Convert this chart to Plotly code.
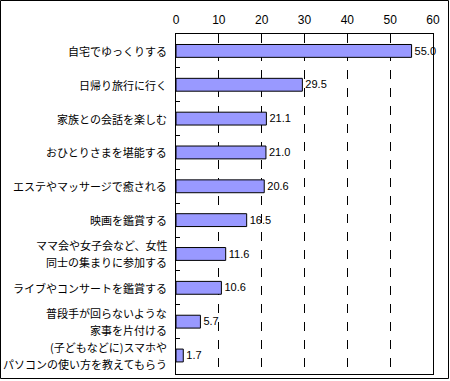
import plotly.graph_objects as go

categories = [
    "自宅でゆっくりする",
    "日帰り旅行に行く",
    "家族との会話を楽しむ",
    "おひとりさまを堪能する",
    "エステやマッサージで癒される",
    "映画を鑑賞する",
    "ママ会や女子会など、女性<br>同士の集まりに参加する",
    "ライブやコンサートを鑑賞する",
    "普段手が回らないような<br>家事を片付ける",
    "(子どもなどに)スマホや<br>パソコンの使い方を教えてもらう",
]
values = [55.0, 29.5, 21.1, 21.0, 20.6, 16.5, 11.6, 10.6, 5.7, 1.7]
x_ticks = [0, 10, 20, 30, 40, 50, 60]

W, H = 450, 381
ML, MR, MT, MB = 176, 17, 34, 7
LINE_GAP = 17

fig = go.Figure()
fig.add_trace(go.Bar(
    y=categories,
    x=values,
    orientation="h",
    marker=dict(color="#9999FF", line=dict(color="black", width=1)),
    text=[f"{v:.1f}" for v in values],
    textposition="outside",
    textfont=dict(size=12, color="black", family="Liberation Sans, Arial"),
    cliponaxis=False,
    width=0.38,
))

# category labels (one text per line so that line spacing matches)
for cat in categories:
    lines = cat.split("<br>")
    n = len(lines)
    for i, line in enumerate(lines):
        fig.add_annotation(
            xref="paper", yref="y", x=0, y=cat,
            text=line, showarrow=False,
            xanchor="right", yanchor="middle",
            xshift=-7, yshift=((n - 1) / 2 - i) * LINE_GAP,
            font=dict(size=11, family="Noto Sans CJK JP", color="black"),
        )

pw = W - ML - MR
ph = H - MT - MB
fig.add_shape(
    type="rect", xref="paper", yref="paper",
    x0=(0.5 - ML) / pw, x1=(W - 1.5 - ML) / pw,
    y0=-(MB - 2.5) / ph, y1=1 + (MT - 0.5) / ph,
    line=dict(color="black", width=1),
    layer="above",
)

fig.update_layout(
    width=W, height=H,
    margin=dict(l=ML, r=MR, t=MT, b=MB, autoexpand=False),
    paper_bgcolor="white", plot_bgcolor="white",
    showlegend=False,
    font=dict(family="Noto Sans CJK JP", size=11, color="black"),
    xaxis=dict(
        side="top", range=[0, 60], tickvals=x_ticks, automargin=False,
        showgrid=True, gridcolor="black", gridwidth=1, griddash="dash",
        zeroline=False, showline=True, linecolor="black", linewidth=1, mirror=True,
        ticks="", ticklabelstandoff=4,
        tickfont=dict(size=12, family="Liberation Sans, Arial", color="black"),
    ),
    yaxis=dict(
        autorange="reversed", type="category", automargin=False,
        showline=True, linecolor="black", linewidth=1, mirror=True,
        ticks="inside", tickson="boundaries", ticklen=4, tickcolor="black",
        showgrid=False, showticklabels=False,
    ),
)

fig.write_html(
    "out.html",
    config={"displayModeBar": False},
    post_script="document.body.style.margin='0';document.body.style.overflow='hidden';",
)
